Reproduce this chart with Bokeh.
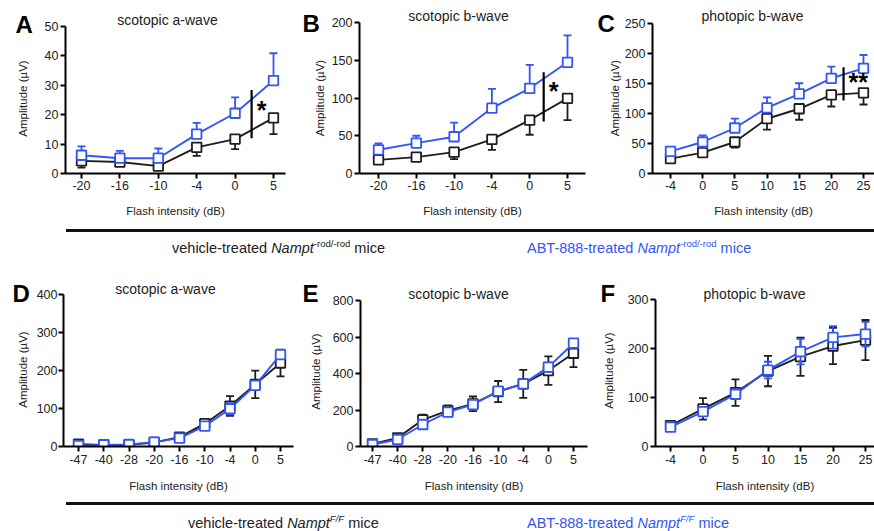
from bokeh.plotting import figure
from bokeh.models import FixedTicker, Label, Div
from bokeh.layouts import column, row
from bokeh.embed import file_html
from bokeh.resources import INLINE
from bokeh.core.properties import value

BLACK = "#1e1e1e"
BLUE = "#3355f5"
FONT = "Liberation Sans"

# ---------------- data ----------------
# A: scotopic a-wave, Nampt rod/-rod
a_db = ["-20", "-16", "-10", "-4", "0", "5"]
a_vehicle = [4.3, 3.9, 2.5, 8.9, 11.7, 18.9]
a_vehicle_sem = [2.3, 1.0, 0.8, 2.9, 3.4, 5.5]
a_abt = [6.2, 5.2, 5.2, 13.4, 20.5, 31.6]
a_abt_sem = [3.0, 2.5, 3.3, 3.8, 5.4, 9.3]
a_sig = (4.43, 12.0, 28.4)          # bar position (between categories), low, high
a_star = ("*", 4.69, 22.1)

# B: scotopic b-wave, Nampt rod/-rod
b_db = ["-20", "-16", "-10", "-4", "0", "5"]
b_vehicle = [18.1, 21.7, 28.3, 45.1, 70.8, 99.6]
b_vehicle_sem = [4.8, 3.0, 9.3, 13.7, 19.5, 28.8]
b_abt = [31.4, 40.3, 48.7, 86.7, 112.8, 147.3]
b_abt_sem = [8.4, 9.7, 18.6, 25.3, 31.2, 35.7]
b_sig = (4.37, 69.0, 134.0)
b_star = ("*", 4.63, 110.0)

# C: photopic b-wave, Nampt rod/-rod
c_db = ["-4", "0", "5", "10", "15", "20", "25"]
c_vehicle = [24.9, 34.8, 52.5, 91.3, 107.9, 131.0, 134.4]
c_vehicle_sem = [4.4, 4.4, 9.4, 18.3, 18.3, 19.3, 19.4]
c_abt = [37.0, 52.5, 75.8, 109.5, 132.7, 158.7, 175.3]
c_abt_sem = [5.6, 11.1, 15.5, 17.5, 17.7, 19.3, 22.2]
c_sig = (5.38, 121.7, 177.0)
c_star = ("**", 5.84, 155.0)

# D: scotopic a-wave, Nampt F/F
d_db = ["-47", "-40", "-28", "-20", "-16", "-10", "-4", "0", "5"]
d_vehicle = [6.0, 4.4, 4.4, 10.5, 24.6, 60.0, 106.4, 163.5, 219.8]
d_vehicle_sem = [1.0, 1.0, 1.0, 2.0, 5.0, 8.0, 26.0, 36.0, 35.0]
d_abt = [2.6, 4.4, 5.3, 11.4, 22.0, 53.6, 99.3, 160.9, 241.8]
d_abt_sem = [1.0, 1.0, 1.0, 2.0, 3.0, 5.0, 15.0, 12.0, 11.0]

# E: scotopic b-wave, Nampt F/F
e_db = ["-47", "-40", "-28", "-20", "-16", "-10", "-4", "0", "5"]
e_vehicle = [14.6, 47.5, 146.0, 197.0, 234.0, 301.0, 343.0, 416.0, 511.0]
e_vehicle_sem = [5.0, 8.0, 29.0, 28.0, 40.0, 58.0, 77.0, 78.0, 76.0]
e_abt = [11.0, 38.4, 120.5, 188.0, 230.0, 303.0, 343.0, 435.0, 566.0]
e_abt_sem = [4.0, 6.0, 12.0, 14.0, 16.0, 20.0, 25.0, 25.0, 15.0]

# F: photopic b-wave, Nampt F/F
f_db = ["-4", "0", "5", "10", "15", "20", "25"]
f_vehicle = [42.8, 76.7, 110.0, 154.0, 183.3, 205.0, 217.2]
f_vehicle_sem = [4.0, 22.0, 27.0, 31.0, 39.0, 37.0, 41.0]
f_abt = [39.4, 71.3, 106.6, 156.0, 193.5, 222.7, 229.5]
f_abt_sem = [3.0, 8.0, 10.0, 17.0, 26.0, 23.0, 25.0]

FLASH = "Flash intensity (dB)"
AMP = "Amplitude (\u00b5V)"


def panel(cats, veh, veh_sem, abt, abt_sem, ymax, ystep, frame, top_px, fig, ticks_px,
          letter, letter_px, title, title_px, ylab_standoff=0, amp_px=None, both=False,
          sig=None, star=None, xlab_gap=(2, 12), ytick_gap=2):
    L, R, T, B = frame          # frame edges on the page (px)
    X0, Y0, W, H = fig          # figure box on the page (px)
    t0, t1 = ticks_px           # page x of first / last category tick
    n = len(cats)
    step = (t1 - t0) / (n - 1)
    xs = -(t0 - L) / step
    xe = (n - 1) + (R - t1) / step
    ytop = ymax * (B - T) / (B - top_px)   # range end so that ymax sits at top_px
    p = figure(width=W, height=H, x_range=(xs, xe), y_range=(0, ytop),
               output_backend="svg", toolbar_location=None, title=None,
               min_border_left=L - X0, min_border_right=X0 + W - R,
               min_border_top=T - Y0, min_border_bottom=Y0 + H - B)
    p.outline_line_color = None
    p.background_fill_color = "white"
    p.border_fill_color = "white"
    p.xgrid.visible = False
    p.ygrid.visible = False
    xi = list(range(n))
    p.xaxis.ticker = FixedTicker(ticks=xi)
    p.xaxis.major_label_overrides = {i: c for i, c in enumerate(cats)}
    p.yaxis.ticker = FixedTicker(ticks=list(range(0, ymax + 1, ystep)))
    p.yaxis.bounds = (0, ymax)
    for ax in (p.xaxis[0], p.yaxis[0]):
        ax.axis_line_width = 2
        ax.axis_line_color = "black"
        ax.major_tick_line_width = 2
        ax.major_tick_line_color = "black"
        ax.major_tick_out = 5
        ax.major_tick_in = 0
        ax.minor_tick_line_color = None
        ax.major_label_text_font = FONT
        ax.major_label_text_font_size = "12.5px"
        ax.major_label_text_color = "#222222"
        ax.axis_label_text_font = FONT
        ax.axis_label_text_font_size = "11.5px"
        ax.axis_label_text_font_style = "normal"
        ax.axis_label_text_color = "#222222"
    p.xaxis.axis_label = FLASH
    p.xaxis.major_label_standoff = xlab_gap[0]
    p.xaxis.axis_label_standoff = xlab_gap[1]
    p.yaxis.major_label_standoff = ytick_gap
    if amp_px is None:
        p.yaxis.axis_label = AMP
        p.yaxis.axis_label_standoff = ylab_standoff

    def series(vals, sems, color, lower, upper):
        lo = [v - s for v, s in zip(vals, sems)] if lower else vals
        hi = [v + s for v, s in zip(vals, sems)] if upper else vals
        p.segment(x0=xi, y0=lo, x1=xi, y1=hi, line_color=color, line_width=1.8)
        if lower:
            p.scatter(xi, lo, marker="dash", size=8, line_color=color, line_width=1.8)
        if upper:
            p.scatter(xi, hi, marker="dash", size=8, line_color=color, line_width=1.8)
        p.line(xi, vals, line_color=color, line_width=1.9)
        p.scatter(xi, vals, marker="square", size=9.5, fill_color="white",
                  line_color=color, line_width=1.8)

    series(veh, veh_sem, BLACK, True, both)
    series(abt, abt_sem, BLUE, both, True)

    if sig is not None:
        sx, slo, shi = sig
        p.segment(x0=[sx], y0=[slo], x1=[sx], y1=[shi], line_color="black", line_width=2.2)
        stxt, stx, sty = star
        p.text(x=[stx], y=[sty], text=[stxt], text_font=value(FONT),
               text_font_size="25px", text_font_style="bold", text_align="center",
               text_baseline="middle", y_offset=1, text_color="black")

    def to_data(px, py):
        return (px - t0) / step, (B - py) / (B - T) * ytop

    # panel letter: in a side panel so that it is not clipped to the frame
    lx, ly = to_data(*letter_px)
    p.add_layout(Label(x=lx, y=ly, x_units="data", y_units="data",
                       text=letter, text_font=FONT, text_font_size="24px",
                       text_font_style="bold", text_color="black",
                       text_baseline="middle", text_align="left"), "left")
    if amp_px is not None:
        ax_, ay_ = to_data(*amp_px)
        p.add_layout(Label(x=ax_, y=ay_, x_units="data", y_units="data",
                           text=AMP, text_font=FONT, text_font_size="11.5px",
                           text_color="#222222", text_baseline="middle",
                           text_align="center", angle=90, angle_units="deg"), "left")
    tx, ty = to_data(*title_px)
    p.add_layout(Label(x=tx, y=ty, x_units="data", y_units="data",
                       text=title, text_font=FONT, text_font_size="14px",
                       text_color="#222222", text_baseline="middle",
                       text_align="center"), "above")
    return p


TOP_T, TOP_B = 22, 173
BOT_T, BOT_B = 294, 446

pA = panel(a_db, a_vehicle, a_vehicle_sem, a_abt, a_abt_sem, 50, 10,
           frame=(65, 285, TOP_T, TOP_B), top_px=26, fig=(0, 0, 292, 224), ticks_px=(81, 273),
           letter="A", letter_px=(15, 24), title="scotopic a-wave", title_px=(167, 19),
           amp_px=(22, 98), sig=a_sig, star=a_star)
pB = panel(b_db, b_vehicle, b_vehicle_sem, b_abt, b_abt_sem, 200, 50,
           frame=(359, 585, TOP_T, TOP_B), top_px=22, fig=(292, 0, 294, 224), ticks_px=(378, 567),
           letter="B", letter_px=(302, 23), title="scotopic b-wave", title_px=(458, 15),
           ylab_standoff=3, sig=b_sig, star=b_star)
pC = panel(c_db, c_vehicle, c_vehicle_sem, c_abt, c_abt_sem, 250, 50,
           frame=(652, 874, TOP_T, TOP_B), top_px=23, fig=(586, 0, 288, 224), ticks_px=(670, 863),
           letter="C", letter_px=(597, 23), title="photopic b-wave", title_px=(752, 15),
           ylab_standoff=1, sig=c_sig, star=c_star)

pD = panel(d_db, d_vehicle, d_vehicle_sem, d_abt, d_abt_sem, 400, 100,
           frame=(63, 293, BOT_T, BOT_B), top_px=294, fig=(0, 262, 294, 234), ticks_px=(78, 280),
           letter="D", letter_px=(12, 293), title="scotopic a-wave", title_px=(165, 288),
           amp_px=(22, 369), ytick_gap=1, both=True, xlab_gap=(3, 13))
pE = panel(e_db, e_vehicle, e_vehicle_sem, e_abt, e_abt_sem, 800, 200,
           frame=(360, 587, BOT_T, BOT_B), top_px=300, fig=(294, 262, 294, 234), ticks_px=(372, 573),
           letter="E", letter_px=(302, 293), title="scotopic b-wave", title_px=(458, 293),
           amp_px=(315, 371), both=True, xlab_gap=(3, 13))
pF = panel(f_db, f_vehicle, f_vehicle_sem, f_abt, f_abt_sem, 300, 100,
           frame=(655, 874, BOT_T, BOT_B), top_px=299, fig=(588, 262, 286, 234), ticks_px=(670, 865),
           letter="F", letter_px=(600, 293), title="photopic b-wave", title_px=(754, 293),
           amp_px=(608, 370), both=True, xlab_gap=(3, 13))

TXT = "position:absolute;font-family:'Liberation Sans';font-size:14.5px;line-height:16px;white-space:nowrap;"
SUP = "font-size:9.5px;vertical-align:6px;"


def legend_div(h, line_top, text_top, sup_text, left1, left2):
    html = (
        f'<div style="position:relative;width:874px;height:{h}px;margin:0;">'
        f'<div style="position:absolute;left:66px;width:808px;top:{line_top}px;border-top:3px solid #111;"></div>'
        f'<span style="{TXT}left:{left1}px;top:{text_top}px;color:#222;">vehicle-treated '
        f'<i>Nampt</i><span style="{SUP}">{sup_text}</span> mice</span>'
        f'<span style="{TXT}left:{left2}px;top:{text_top}px;color:{BLUE};">ABT-888-treated '
        f'<i>Nampt</i><span style="{SUP}">{sup_text}</span> mice</span>'
        '</div>'
    )
    return Div(text=html, width=874, height=h, margin=0)


leg1 = legend_div(38, 5, 12, "-rod/-rod", 172, 527)
leg2 = legend_div(35, 6, 15, "<i>F/F</i>", 188, 527)

layout = column(row(pA, pB, pC), leg1, row(pD, pE, pF), leg2)

open("out.html", "w").write(file_html(layout, INLINE))
